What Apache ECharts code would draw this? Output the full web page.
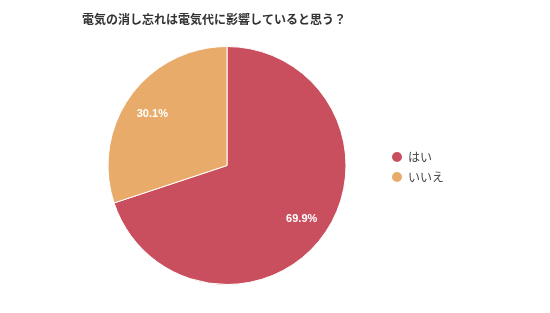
<!DOCTYPE html>
<html><head><meta charset="utf-8">
<script src="https://cdn.jsdelivr.net/npm/echarts@6/dist/echarts.min.js"></script>
<style>html,body{margin:0;padding:0;background:#fff}#c{width:550px;height:313px}</style>
</head><body><div id="c"></div>
<script>
const title = '電気の消し忘れは電気代に影響していると思う？';
const categories = ['はい', 'いいえ'];
const values = [69.9, 30.1];
const colors = ['#c94f5e', '#e8ab6a'];
const labelOffsets = [[24, 17], [-24, -15]];

const chart = echarts.init(document.getElementById('c'), null, {renderer: 'canvas'});
chart.setOption({
  animation: false,
  title: {
    text: title, left: 82, top: 13, padding: 0,
    textStyle: {fontSize: 12, fontWeight: 'bold', color: '#333', fontFamily: 'Noto Sans CJK JP'}
  },
  legend: {
    orient: 'vertical', left: 390, top: 150, padding: 0,
    icon: 'circle', itemWidth: 12, itemHeight: 12, itemGap: 6,
    textStyle: {fontSize: 12, color: '#444', fontFamily: 'Noto Sans CJK JP'},
    data: categories
  },
  series: [{
    type: 'pie',
    center: [227, 165.5], radius: 119,
    startAngle: 90, clockwise: true,
    itemStyle: {borderColor: '#fff', borderWidth: 1},
    label: {show: true, position: 'inside', formatter: p => p.value.toFixed(1) + '%',
      color: '#fff', fontSize: 11, fontWeight: 'bold', fontFamily: 'Liberation Sans'},
    labelLine: {show: false},
    emphasis: {disabled: true},
    data: categories.map((n, i) => ({
      name: n, value: values[i],
      itemStyle: {color: colors[i]},
      label: {offset: labelOffsets[i]}
    }))
  }]
});
</script></body></html>
